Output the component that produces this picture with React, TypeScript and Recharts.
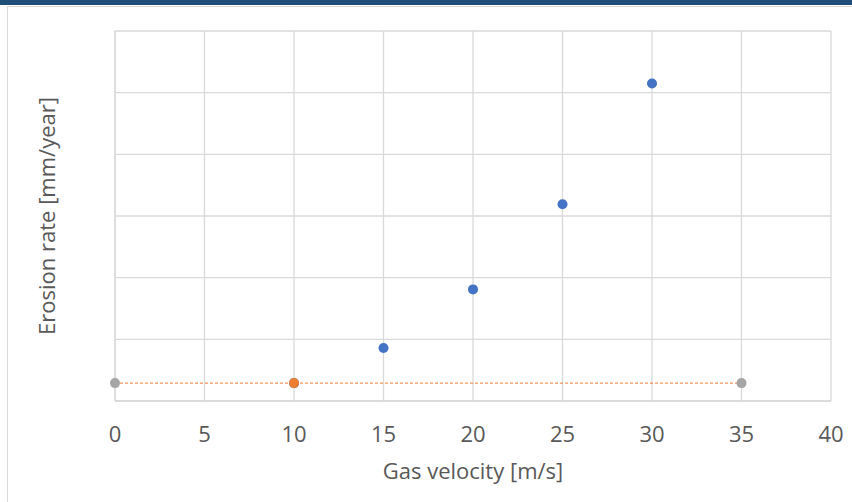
import React from 'react';
import {
  ScatterChart,
  Scatter,
  XAxis,
  YAxis,
  CartesianGrid,
} from 'recharts';

// Measured erosion rate (blue), operating point (orange), limit line (gray ends, dashed orange)
const measuredVelocity = [10, 15, 20, 25, 30];
const measuredErosion = [0.29, 0.86, 1.81, 3.19, 5.15];
const operatingVelocity = [10];
const operatingErosion = [0.29];
const limitVelocity = [0, 35];
const limitErosion = [0.29, 0.29];

const xTicks = [0, 5, 10, 15, 20, 25, 30, 35, 40];
const yTicks = [0, 1, 2, 3, 4, 5, 6];

const toPoints = (xs: number[], ys: number[]) => xs.map((x, i) => ({ x, y: ys[i] }));

const measured = toPoints(measuredVelocity, measuredErosion);
const operating = toPoints(operatingVelocity, operatingErosion);
const limit = toPoints(limitVelocity, limitErosion);

const FONT = '"Open Sans", "Noto Sans", sans-serif';
const TEXT = '#595959';
const GRID = '#d9d9d9';

const Dot = (color: string) => (props: any) => (
  <circle cx={props.cx} cy={props.cy} r={5} fill={color} />
);

// y axis shows no tick labels, but ticks are kept so the grid gets its lines
const NoTick = () => <g />;

export default function App() {
  return (
    <div style={{ position: 'absolute', left: 0, top: 0, width: 852, height: 502, background: '#fff', fontFamily: FONT, overflow: 'hidden' }}>
      {/* title bar strip and chart frame */}
      <div style={{ position: 'absolute', left: 0, top: 0, width: 852, height: 5, background: '#1f4e79' }} />
      <div style={{ position: 'absolute', left: 7, top: 6, width: 860, height: 520, border: '1px solid #d9d9d9', boxSizing: 'border-box' }} />
      <div style={{ position: 'absolute', left: 0, top: 0 }}>
        <ScatterChart width={852} height={502} margin={{ top: 31, right: 21, left: 0, bottom: 21 }}>
          <CartesianGrid stroke={GRID} strokeWidth={1.3} />
          <XAxis
            type="number"
            dataKey="x"
            domain={[0, 40]}
            ticks={xTicks}
            interval={0}
            height={80}
            axisLine={{ stroke: GRID, strokeWidth: 1.3 }}
            tickLine={false}
            tickMargin={19}
            tick={{ fill: TEXT, fontSize: 22, fontFamily: FONT }}
            label={{
              value: 'Gas velocity [m/s]',
              position: 'insideBottom',
              offset: 2,
              style: { fill: TEXT, fontSize: 22, fontFamily: FONT },
            }}
          />
          <YAxis
            type="number"
            dataKey="y"
            domain={[0, 6]}
            ticks={yTicks}
            interval={0}
            width={115}
            tick={<NoTick />}
            tickLine={false}
            axisLine={{ stroke: GRID, strokeWidth: 1.3 }}
            label={{
              value: 'Erosion rate [mm/year]',
              angle: -90,
              position: 'insideLeft',
              offset: 47,
              style: { fill: TEXT, fontSize: 22, fontFamily: FONT, textAnchor: 'middle' },
            }}
          />
          <Scatter
            data={limit}
            fill="#a5a5a5"
            line={{ stroke: '#ed7d31', strokeWidth: 1, strokeDasharray: '3 2' }}
            shape={Dot('#a5a5a5')}
            isAnimationActive={false}
          />
          <Scatter data={measured} fill="#4472c4" shape={Dot('#4472c4')} isAnimationActive={false} />
          <Scatter data={operating} fill="#ed7d31" shape={Dot('#ed7d31')} isAnimationActive={false} />
        </ScatterChart>
      </div>
    </div>
  );
}
